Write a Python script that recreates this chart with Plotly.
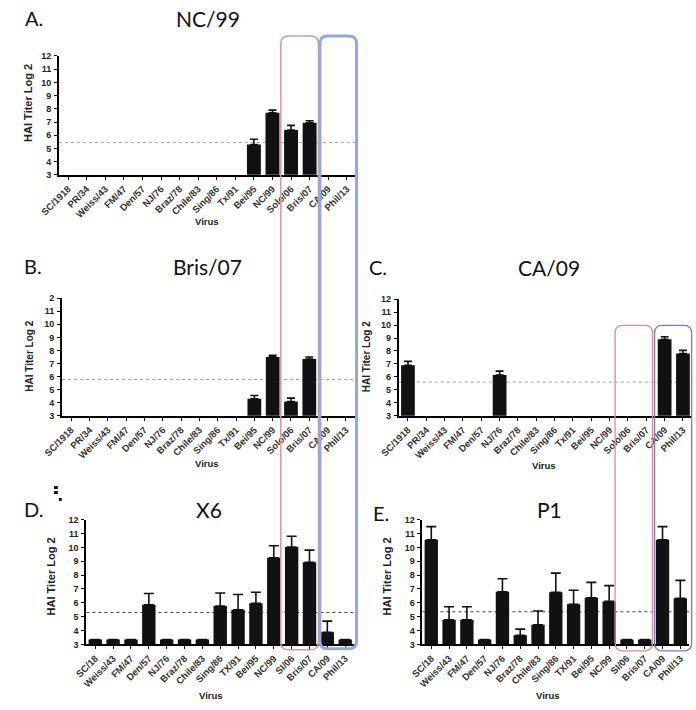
import plotly.graph_objects as go

W, H = 696, 710

# ---------------- data ----------------
cats_long = ["SC/1918", "PR/34", "Weiss/43", "FM/47", "Den/57", "NJ/76", "Braz/78",
             "Chile/83", "Sing/86", "Tx/91", "Bei/95", "NC/99", "Solo/06", "Bris/07",
             "CA/09", "Phil/13"]
cats_short = ["SC/18", "Weiss/43", "FM/47", "Den/57", "NJ/76", "Braz/78", "Chile/83",
              "Sing/86", "TX/91", "Bei/95", "NC/99", "SI/06", "Bris/07", "CA/09", "Phil/13"]

a_mean = [None] * 10 + [5.3, 7.7, 6.4, 6.95, None, None]
a_sem = [None] * 10 + [0.4, 0.2, 0.35, 0.15, None, None]

b_mean = [None] * 10 + [4.3, 7.5, 4.1, 7.35, None, None]
b_sem = [None] * 10 + [0.25, 0.12, 0.25, 0.15, None, None]

c_mean = [6.9, None, None, None, None, 6.15, None, None, None, None, None, None, None, None, 8.9, 7.8]
c_sem = [0.3, None, None, None, None, 0.3, None, None, None, None, None, None, None, None, 0.2, 0.25]

d_mean = [3.35, 3.35, 3.35, 5.86, 3.35, 3.35, 3.35, 5.77, 5.49, 5.96, 9.25, 10.03, 8.92, 3.87, 3.35]
d_sem = [0, 0, 0, 0.81, 0, 0, 0, 0.94, 1.11, 0.8, 0.87, 0.77, 0.88, 0.81, 0]

e_mean = [10.55, 4.78, 4.78, 3.35, 6.79, 3.65, 4.42, 6.76, 5.89, 6.36, 6.1, 3.35, 3.35, 10.55, 6.32]
e_sem = [0.95, 0.94, 0.94, 0, 0.94, 0.45, 0.99, 1.38, 1.01, 1.11, 1.14, 0, 0, 0.95, 1.3]

thresholds = [5.45, 5.78, 5.6, 5.3, 5.35]
titles = ["NC/99", "Bris/07", "CA/09", "X6", "P1"]
letters = ["A.", "B.", "C.", "D.", "E."]
y_ticks = list(range(3, 13))

# ---------------- layout helpers ----------------
def fx(px):
    return px / W

def fy(py):
    return 1 - py / H

# pixel boxes of each plot area: (left, right, top(12), bottom(3))
panels = [
    dict(cats=cats_long, mean=a_mean, sem=a_sem, box=(40, 346, 51.7, 172.3), cap=4, dotc="#a0a0a0"),
    dict(cats=cats_long, mean=b_mean, sem=b_sem, box=(43.3, 345, 297.3, 416.7), cap=4, dotc="#a0a0a0"),
    dict(cats=cats_long, mean=c_mean, sem=c_sem, box=(390, 692, 298.3, 416.7), cap=4, dotc="#a0a0a0"),
    dict(cats=cats_short, mean=d_mean, sem=d_sem, box=(68.3, 344, 522, 648.5), cap=5, dotc="#444444"),
    dict(cats=cats_short, mean=e_mean, sem=e_sem, box=(414.3, 689, 522, 648.5), cap=5, dotc="#444444"),
]

fig = go.Figure()
layout = dict(
    width=W, height=H, margin=dict(l=0, r=0, t=0, b=0),
    paper_bgcolor="white", plot_bgcolor="white", showlegend=False,
    font=dict(family="Liberation Sans, Arial, sans-serif", color="#222"),
)
shapes = []
annotations = []

for i, p in enumerate(panels):
    k = "" if i == 0 else str(i + 1)
    xa, ya = "x" + k, "y" + k
    l, r, t, b = p["box"]
    n = len(p["cats"])
    fig.add_trace(go.Bar(
        x=p["cats"], y=p["mean"], xaxis=xa, yaxis=ya, width=0.75,
        marker=dict(color="#111111", line=dict(width=0)),
        error_y=dict(type="data", symmetric=False, array=p["sem"],
                     arrayminus=[0 if v is not None else None for v in p["sem"]],
                     color="#111111", thickness=1.6, width=p["cap"]),
    ))
    top_text = [str(v) for v in y_ticks]
    if i == 1:
        top_text[-1] = "2"
    layout["xaxis" + k] = dict(
        domain=[fx(l), fx(r)], anchor=ya, type="category",
        categoryorder="array", categoryarray=p["cats"], range=[-0.5, n - 0.5],
        showline=True, linecolor="#000", linewidth=1.8, showgrid=False, zeroline=False,
        ticks="outside", ticklen=3, tickwidth=1.4, tickcolor="#000", tickangle=-45,
        tickfont=dict(size=9.5, weight="bold", color="#333"),
    )
    layout["yaxis" + k] = dict(
        domain=[fy(b), fy(t)], anchor=xa, range=[3, 12],
        tickmode="array", tickvals=y_ticks, ticktext=top_text,
        showline=True, linecolor="#000", linewidth=1.8, showgrid=False, zeroline=False,
        ticks="outside", ticklen=3, tickwidth=1.4, tickcolor="#000",
        tickfont=dict(size=9, weight="bold", color="#222"), ticklabelstandoff=1,
    )
    shapes.append(dict(type="line", xref=xa + " domain", yref=ya, x0=0, x1=1,
                       y0=thresholds[i], y1=thresholds[i],
                       line=dict(color=p["dotc"], width=1, dash="dot"), layer="below"))

# titles, panel letters, axis titles (pixel positions)
title_pos = [(194, 13.5), (193.5, 265), (545, 266), (195, 512), (545, 512)]
letter_pos = [(3, 13), (2, 265), (357, 266), (2, 511), (361, 515)]
ytitle_pos = [(7.5, 99, 11), (10, 356, 10), (357.5, 357, 10), (32, 579.5, 11), (378, 579.5, 11)]
xtitle_pos = [(193, 220), (193, 465), (540, 467), (197, 700), (544, 700)]

for i in range(5):
    tx, ty = title_pos[i]
    annotations.append(dict(text=titles[i], x=fx(tx), y=fy(ty), xref="paper", yref="paper",
                            showarrow=False, xanchor="center", yanchor="middle",
                            font=dict(family="Lato, Open Sans, sans-serif", size=21, color="#111")))
    lx, ly = letter_pos[i]
    annotations.append(dict(text=letters[i], x=fx(lx), y=fy(ly), xref="paper", yref="paper",
                            showarrow=False, xanchor="left", yanchor="middle",
                            font=dict(family="Lato, Open Sans, sans-serif", size=20, color="#111")))
    ax_, ay_, fs = ytitle_pos[i]
    annotations.append(dict(text="HAI Titer Log 2", x=fx(ax_), y=fy(ay_), xref="paper", yref="paper",
                            showarrow=False, textangle=-90, xanchor="center", yanchor="middle",
                            font=dict(size=fs, weight="bold", color="#222")))
    vx, vy = xtitle_pos[i]
    annotations.append(dict(text="Virus", x=fx(vx), y=fy(vy), xref="paper", yref="paper",
                            showarrow=False, xanchor="center", yanchor="middle",
                            font=dict(size=9.5, weight="bold", color="#222")))

# rounded highlight boxes
def rrect(x0, y0, x1, y1, rad):
    pts = [
        ("M", [(x0 + rad, y0)]), ("L", [(x1 - rad, y0)]), ("Q", [(x1, y0), (x1, y0 + rad)]),
        ("L", [(x1, y1 - rad)]), ("Q", [(x1, y1), (x1 - rad, y1)]), ("L", [(x0 + rad, y1)]),
        ("Q", [(x0, y1), (x0, y1 - rad)]), ("L", [(x0, y0 + rad)]), ("Q", [(x0, y0), (x0 + rad, y0)]),
    ]
    s = ""
    for cmd, ps in pts:
        s += cmd + " " + " ".join(f"{fx(px):.5f},{fy(py):.5f}" for px, py in ps) + " "
    return s + "Z"

boxes = [
    (268.5, 31.5, 307.3, 654, 8, "#d39a9a", 1.5),
    (308.8, 31.5, 346.5, 653, 8, "#8fabdc", 3),
    (612.7, 325, 651.2, 655, 8, "#d69090", 1.3),
    (653.3, 325, 691.5, 655, 8, "#7e78c8", 1.3),
]
for x0, y0, x1, y1, rad, col, lw in boxes:
    shapes.append(dict(type="path", xref="paper", yref="paper", path=rrect(x0, y0, x1, y1, rad),
                       line=dict(color=col, width=lw), fillcolor="rgba(0,0,0,0)", layer="above"))

# small stray marks near panel D
for x0, y0, x1, y1 in [(35, 488, 39, 491), (35, 493, 39, 496), (40, 500, 43, 503)]:
    shapes.append(dict(type="rect", xref="paper", yref="paper", x0=fx(x0), x1=fx(x1), y0=fy(y1), y1=fy(y0),
                       line=dict(width=0), fillcolor="#111"))

layout["shapes"] = shapes
layout["annotations"] = annotations
fig.update_layout(**layout)

fig.write_html("out.html", config={"displayModeBar": False})
with open("out.html", encoding="utf-8") as f:
    html = f.read()
html = html.replace("<head>", "<head><style>html,body{margin:0;padding:0;overflow:hidden;}</style>", 1)
with open("out.html", "w", encoding="utf-8") as f:
    f.write(html)
